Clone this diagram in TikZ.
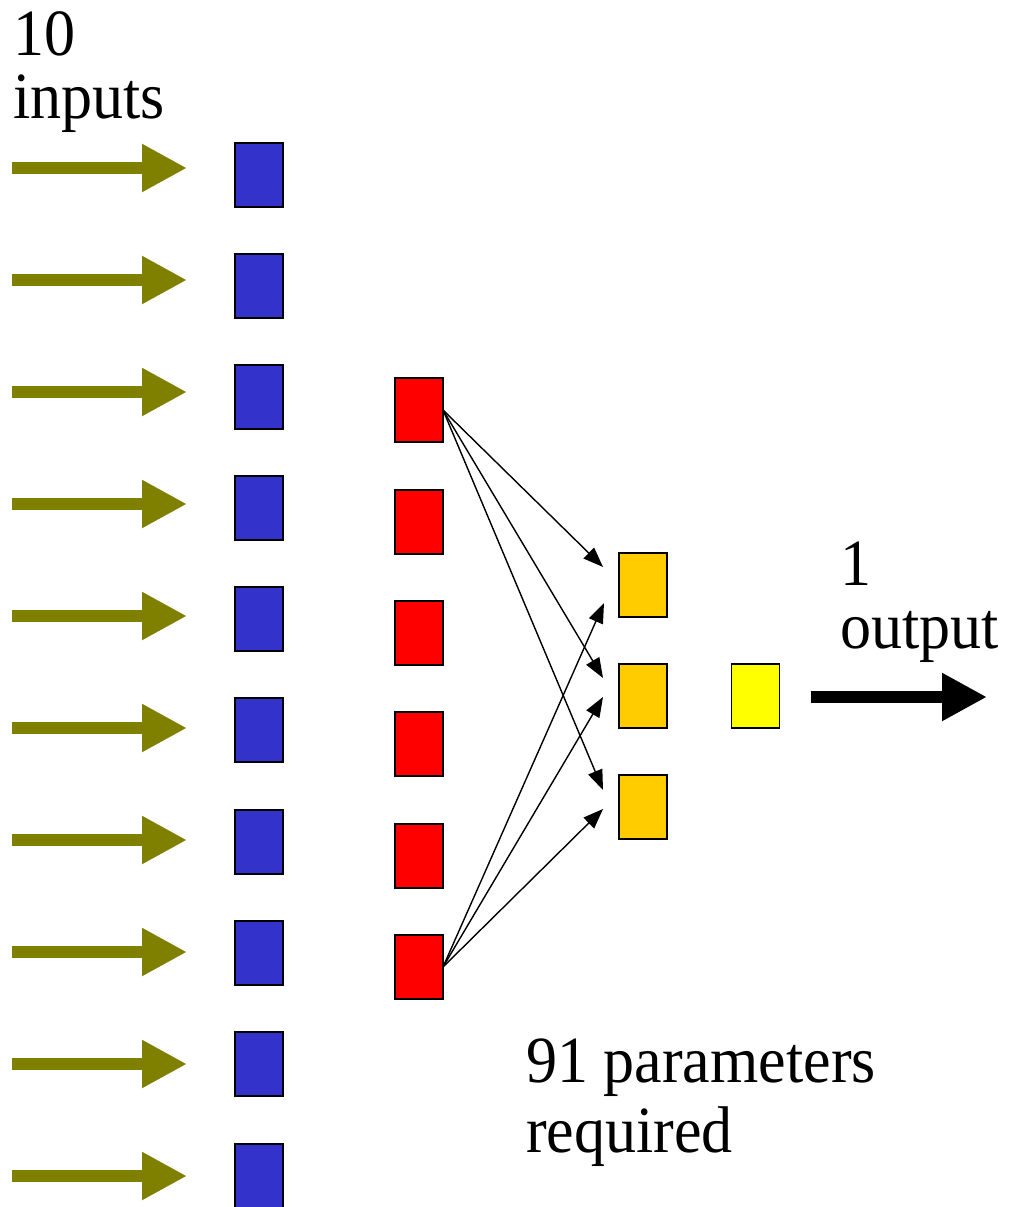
\documentclass[tikz,border=0pt]{standalone}
\usepackage{fontspec}
\setmainfont[FakeStretch=0.94]{Liberation Serif}
\usetikzlibrary{arrows.meta}
\definecolor{inblue}{HTML}{3333CC}
\definecolor{hidred}{HTML}{FF0000}
\definecolor{hidorange}{HTML}{FFCC00}
\definecolor{outyellow}{HTML}{FFFF00}
\definecolor{arrolive}{HTML}{808000}
\tikzset{
  unitbox/.style={draw=black, line width=1.5pt, minimum width=48pt, minimum height=64pt, inner sep=0pt, outer sep=0pt},
  inbox/.style={unitbox, fill=inblue},
  redbox/.style={unitbox, fill=hidred},
  orangebox/.style={unitbox, fill=hidorange},
  yellowbox/.style={unitbox, fill=outyellow},
  fatarrow/.style={line width=12pt, -{Triangle[length=45pt,width=45pt]}},
  inarrow/.style={fatarrow, draw=arrolive},
  outarrow/.style={fatarrow, draw=black},
  wire/.style={line width=1.4pt, -{Triangle[length=20pt,width=15pt]}},
  label/.style={inner sep=0pt, anchor=base west, align=left}
}
\begin{document}
\begin{tikzpicture}[x=1pt,y=-1pt]
\useasboundingbox (0,0) rectangle (1012,1207);
% input boxes
\foreach \i/\y in {1/175,2/286,3/397,4/508,5/619,6/730,7/842,8/953,9/1064,10/1176}{
  \node[inbox] (b\i) at (259,\y) {};
}
\foreach \i/\y in {1/168,2/280,3/392,4/504,5/616,6/728,7/840,8/952,9/1064,10/1176}{
  \coordinate (as\i) at (12,\y);
  \coordinate (ae\i) at (187,\y);
  \draw[inarrow] (as\i) -- (ae\i);
}
% hidden layer 1
\foreach \i/\y in {1/410,2/522,3/633,4/744,5/856,6/967}{
  \node[redbox] (r\i) at (419,\y) {};
}
% hidden layer 2
\foreach \i/\y in {1/585,2/696,3/807}{
  \node[orangebox] (o\i) at (643,\y) {};
}
\node[yellowbox] (y1) at (755.5,696) {};
% connector tips
\coordinate (t11) at (603,567);
\coordinate (t12) at (603,678);
\coordinate (t13) at (603,790);
\coordinate (t61) at (604,603);
\coordinate (t62) at (603,697);
\coordinate (t63) at (603,809);
\draw[wire] (r1.east) -- (t11);
\draw[wire] (r1.east) -- (t12);
\draw[wire] (r1.east) -- (t13);
\draw[wire] (r6.east) -- (t61);
\draw[wire] (r6.east) -- (t62);
\draw[wire] (r6.east) -- (t63);
% output arrow
\coordinate (os) at (811,697);
\coordinate (oe) at (987,697);
\draw[outarrow] (os) -- (oe);
% texts (base anchor = last line baseline)
\node[label, font={\fontsize{66}{63}\selectfont}] (tin) at (13,118) {10\\inputs};
\node[label, font={\fontsize{66}{63}\selectfont}] (tout) at (840,648) {1\\output};
\node[label, font={\fontsize{66}{70}\selectfont}] (tpar) at (526,1152) {91 parameters\\required};
\end{tikzpicture}
\end{document}
